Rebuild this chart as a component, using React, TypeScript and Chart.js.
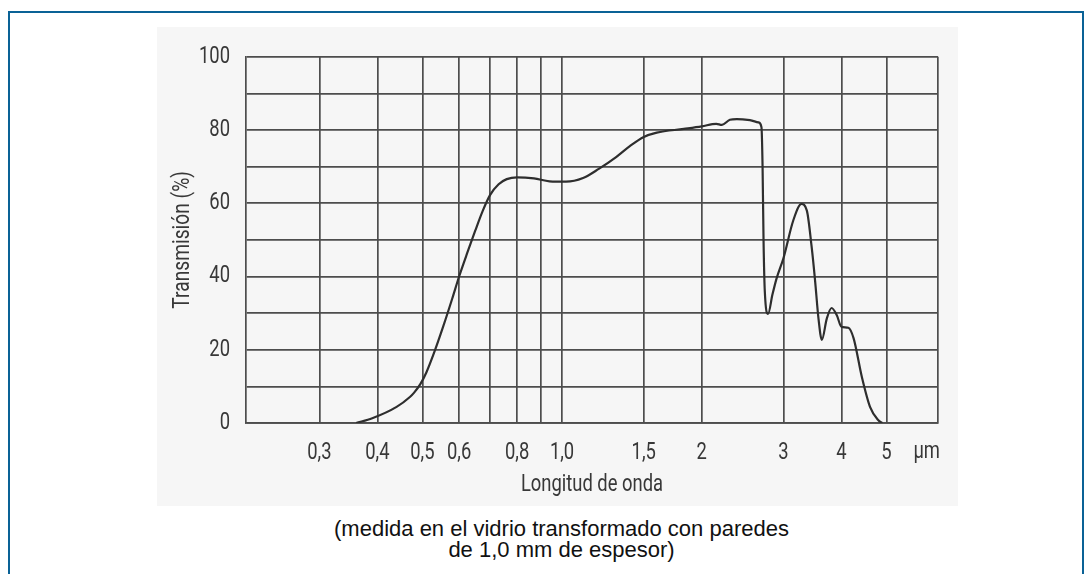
import React, { useEffect, useRef } from 'react';
import { Chart, registerables } from 'chart.js';

Chart.register(...registerables);

// ---- data ----
const wavelength = [
  0.36, 0.39, 0.44, 0.47, 0.48, 0.495, 0.51, 0.53, 0.555, 0.58, 0.6, 0.625, 0.65, 0.675, 0.7, 0.73,
  0.76, 0.8, 0.87, 0.94, 1.02, 1.11, 1.2, 1.31, 1.4, 1.5, 1.6, 1.83, 2.0, 2.15, 2.21, 2.3, 2.38, 2.54,
  2.65, 2.69, 2.705, 2.718, 2.735, 2.78, 2.84, 2.9, 3.0, 3.15, 3.28, 3.37, 3.45, 3.51, 3.57, 3.63,
  3.72, 3.81, 3.91, 4.0, 4.14, 4.25, 4.43, 4.61, 4.8, 4.9,
];
const transmission = [
  0, 1.3, 4.4, 7.1, 8.3, 10.6, 13.8, 19.2, 26.5, 34, 40, 46.5, 52.5, 58, 62.3, 65.2,
  66.6, 67.1, 66.8, 66.0, 65.9, 66.9, 69.4, 72.7, 75.6, 78.1, 79.3, 80.3, 81.0, 81.7, 81.4, 82.8, 83.0, 82.7,
  82.1, 80.8, 70, 50, 36, 29.8, 35, 39.5, 45, 55.3, 59.8, 58.0, 48.2, 38.9, 28.5, 22.7,
  28.5, 31.4, 29.4, 26.3, 26.0, 23.1, 12.4, 4.4, 0.8, 0,
];

const xTickValues = [0.3, 0.4, 0.5, 0.6, 0.7, 0.8, 0.9, 1.0, 1.5, 2, 3, 4, 5];
const xTickLabels = ['0,3', '0,4', '0,5', '0,6', '', '0,8', '', '1,0', '1,5', '2', '3', '4', '5'];
const xMin = 0.2084;
const xMax = 6.46;
const yMin = 0;
const yMax = 100;
const yStep = 10;
const yLabelEvery = 20;
const unitLabel = 'µm';
const yTitle = 'Transmisión (%)';
const xTitle = 'Longitud de onda';
const captionLines = ['(medida en el vidrio transformado con paredes', 'de 1,0 mm de espesor)'];

const FONT = "Roboto, 'Liberation Sans', sans-serif";
const CONDENSE = 0.8; // horizontal squeeze to imitate the condensed typeface
const TEXT = '#383838';
const GRID = '#4d4d4d';

const unitPlugin = {
  id: 'unitLabel',
  afterDraw(chart: any) {
    const { ctx, chartArea } = chart;
    ctx.save();
    ctx.font = `23px ${FONT}`;
    ctx.fillStyle = TEXT;
    ctx.textAlign = 'right';
    ctx.textBaseline = 'middle';
    ctx.fillText(unitLabel, chartArea.right + 2, chartArea.bottom + 15 + 13.8);
    ctx.restore();
  },
};

export default function App() {
  const ref = useRef<HTMLCanvasElement | null>(null);

  useEffect(() => {
    const canvas = ref.current;
    if (!canvas) return;
    const ctx = canvas.getContext('2d') as any;
    const origFill = ctx.fillText;
    ctx.fillText = function (text: string, x: number, y: number, maxWidth?: number) {
      this.save();
      this.scale(CONDENSE, 1);
      if (maxWidth === undefined || maxWidth === null) origFill.call(this, text, x / CONDENSE, y);
      else origFill.call(this, text, x / CONDENSE, y, maxWidth / CONDENSE);
      this.restore();
    };

    const chart = new Chart(canvas, {
      type: 'line',
      data: {
        datasets: [
          {
            data: wavelength.map((x, i) => ({ x, y: transmission[i] })),
            borderColor: '#2e2e2e',
            borderWidth: 2.2,
            pointRadius: 0,
            cubicInterpolationMode: 'monotone',
            fill: false,
          },
        ],
      },
      options: {
        animation: false,
        responsive: false,
        maintainAspectRatio: false,
        devicePixelRatio: 1,
        layout: { padding: { top: 23, right: 20, left: 0, bottom: 0 } },
        plugins: { legend: { display: false }, tooltip: { enabled: false } },
        scales: {
          x: {
            type: 'logarithmic',
            min: xMin,
            max: xMax,
            afterBuildTicks: (s: any) => {
              s.ticks = [...xTickValues.map((v) => ({ value: v })), { value: xMax }];
            },
            afterFit: (s: any) => {
              s.height = 83;
            },
            grid: { color: GRID, lineWidth: 1.7, drawTicks: false },
            border: { color: GRID, width: 1.7 },
            ticks: {
              autoSkip: false,
              maxRotation: 0,
              minRotation: 0,
              padding: 16,
              color: TEXT,
              font: { family: FONT, size: 23 },
              callback: (_v: any, i: number) => (i < xTickLabels.length ? xTickLabels[i] : ''),
            },
            title: {
              display: true,
              text: xTitle,
              color: TEXT,
              font: { family: FONT, size: 23 },
              padding: { top: 0, bottom: 7 },
            },
          },
          y: {
            min: yMin,
            max: yMax,
            afterFit: (s: any) => {
              s.width = 89;
            },
            grid: { color: GRID, lineWidth: 1.7, drawTicks: false },
            border: { color: GRID, width: 1.7 },
            ticks: {
              stepSize: yStep,
              autoSkip: false,
              padding: 16,
              color: TEXT,
              font: { family: FONT, size: 23 },
              callback: (v: any) => (Number(v) % yLabelEvery === 0 ? String(v) : ''),
            },
            title: {
              display: true,
              text: yTitle,
              color: TEXT,
              font: { family: FONT, size: 24 },
              padding: { top: 12, bottom: 0 },
            },
          },
        },
      } as any,
      plugins: [unitPlugin],
    });
    return () => {
      chart.destroy();
      ctx.fillText = origFill;
    };
  }, []);

  return (
    <div
      style={{
        position: 'fixed',
        left: 8,
        top: 11,
        width: 1076,
        height: 580,
        boxSizing: 'border-box',
        borderTop: '2px solid #0a6296',
        borderLeft: '2px solid #0a6296',
        borderRight: '2px solid #0a6296',
        background: '#ffffff',
      }}
    >
      <div
        style={{
          position: 'absolute',
          left: 147,
          top: 14,
          width: 801,
          height: 479,
          background: '#f6f6f6',
        }}
      >
        <canvas ref={ref} width={801} height={479} style={{ width: 801, height: 479, display: 'block' }} />
      </div>
      <div
        style={{
          position: 'absolute',
          left: 151,
          top: 505,
          width: 801,
          textAlign: 'center',
          fontFamily: "'Liberation Sans', Arial, sans-serif",
          fontSize: 22,
          lineHeight: '21px',
          color: '#111111',
        }}
      >
        {captionLines.map((l, i) => (
          <div key={i}>{l}</div>
        ))}
      </div>
    </div>
  );
}
